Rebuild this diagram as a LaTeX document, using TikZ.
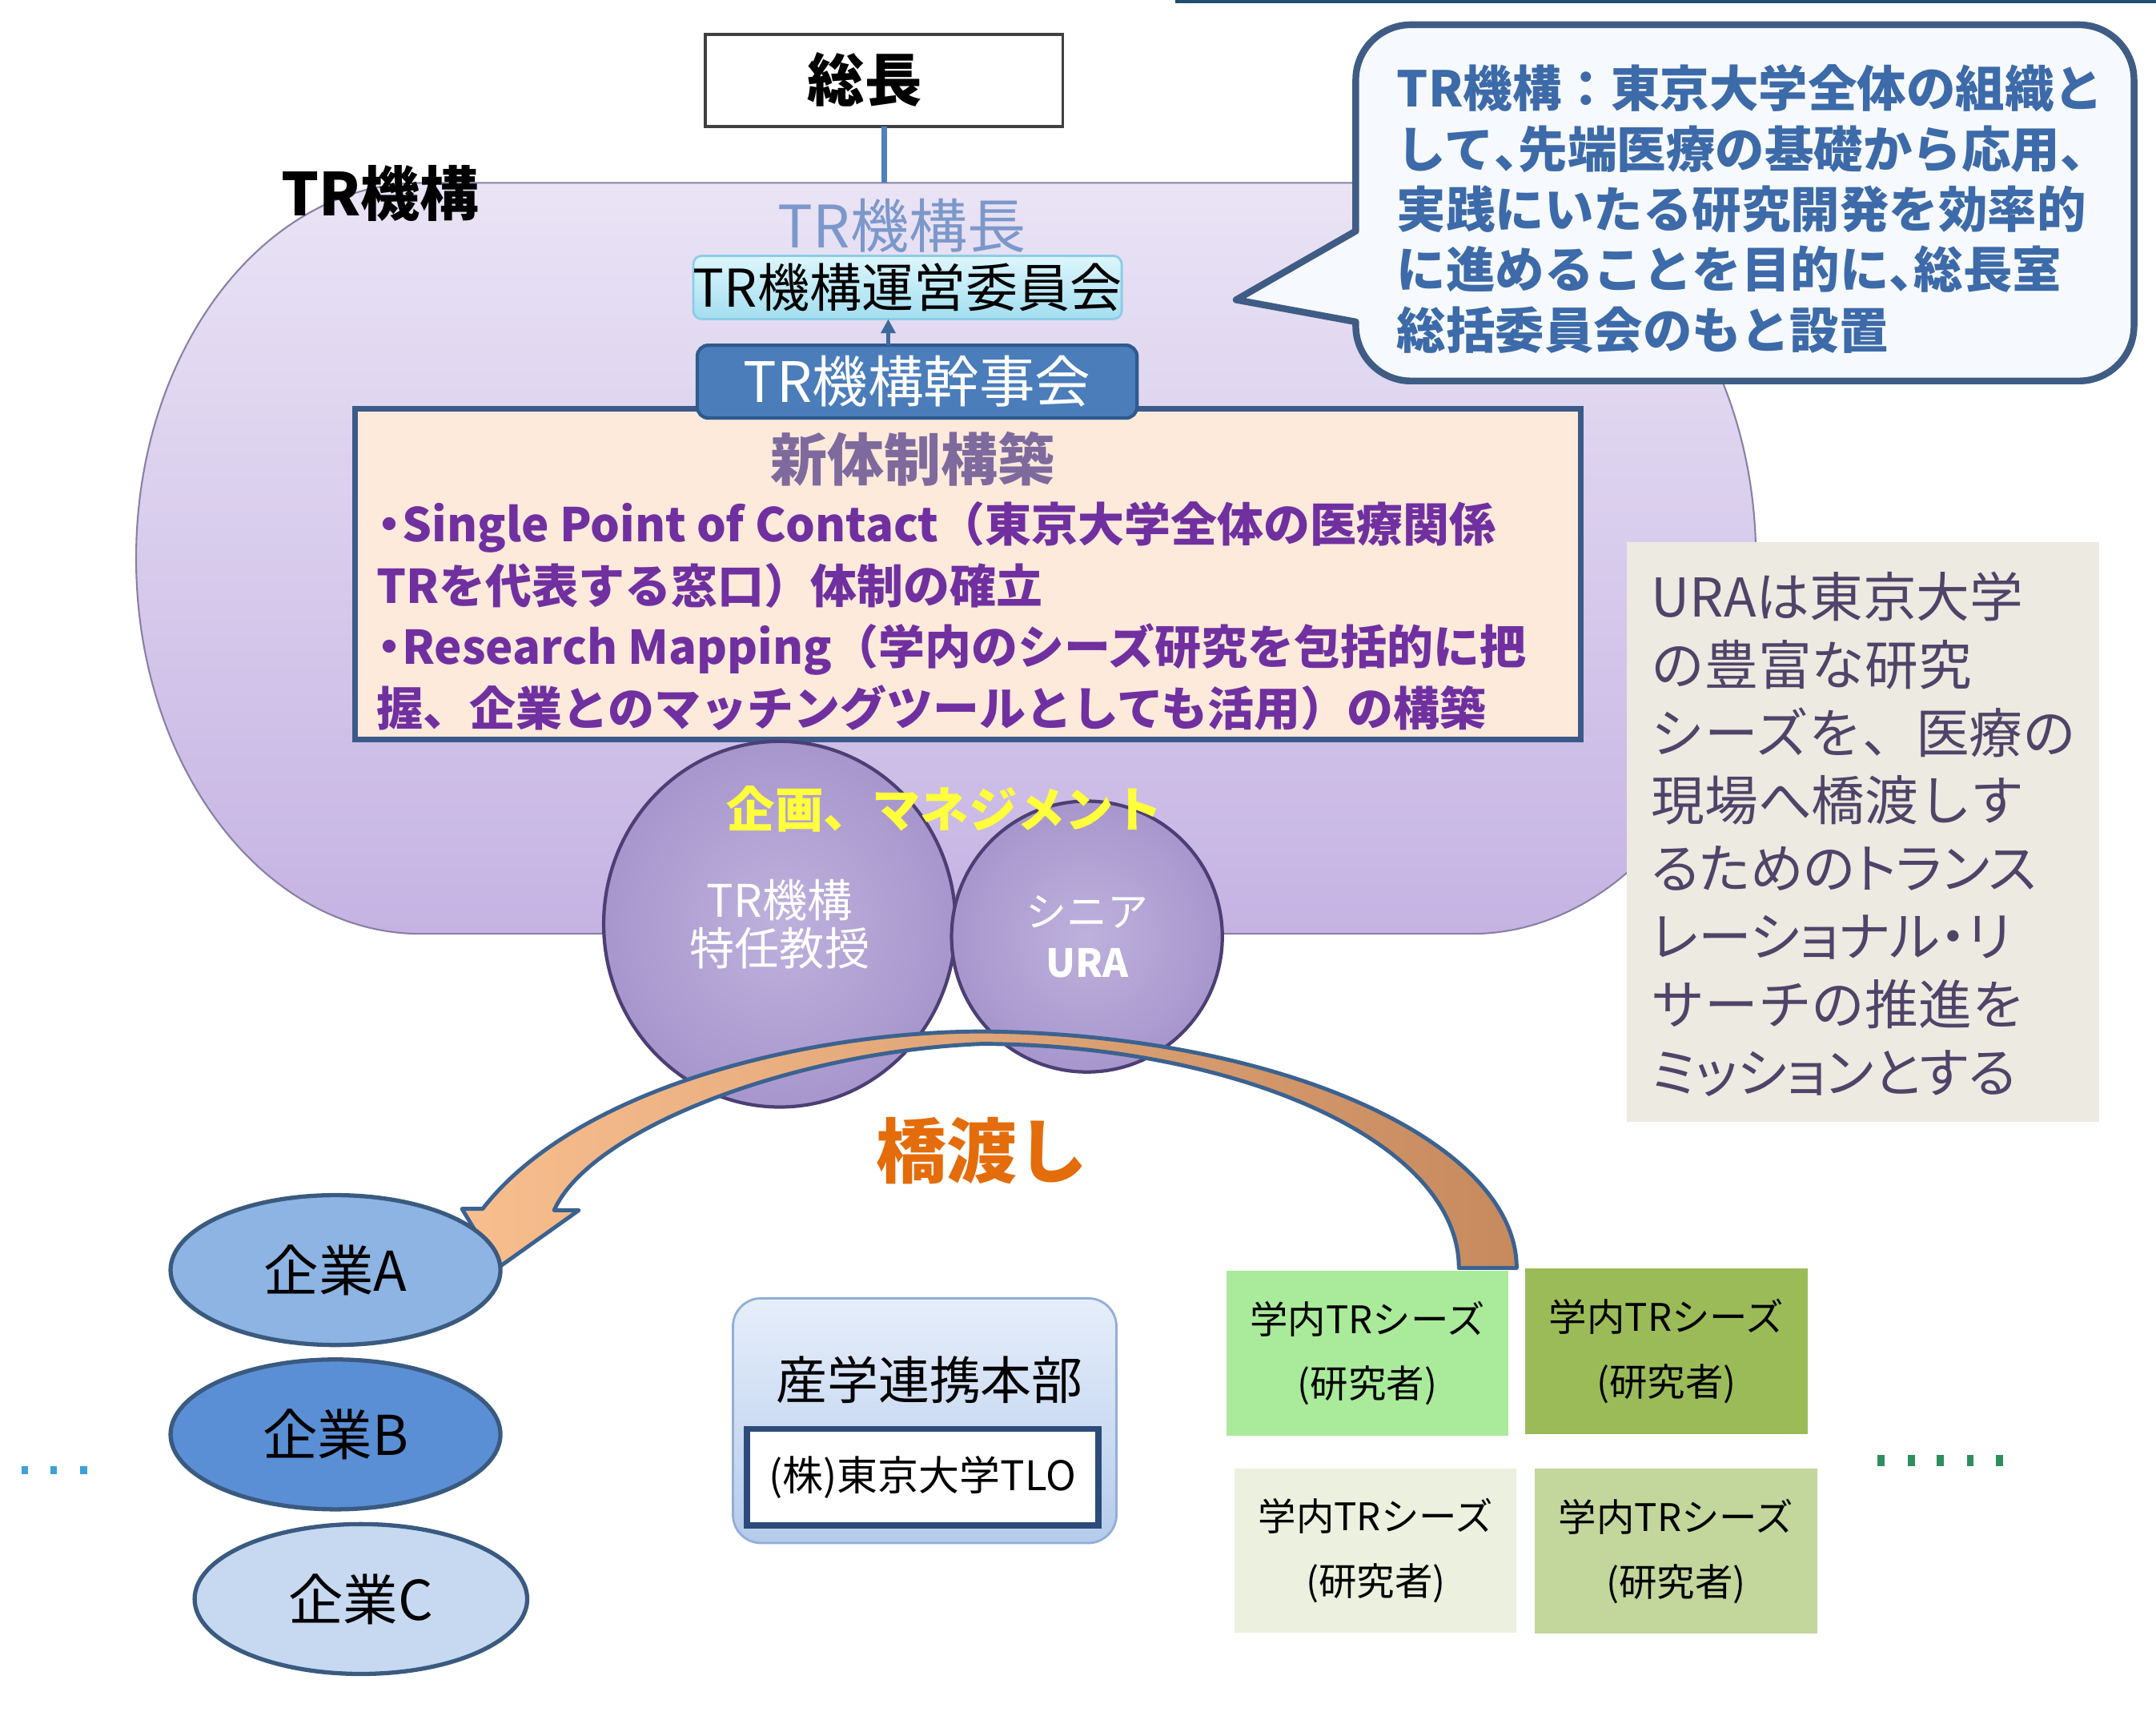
\documentclass[tikz,border=0pt]{standalone}
\usepackage{fontspec}
\setmainfont{Noto Sans CJK JP}
\usetikzlibrary{shapes.geometric,arrows.meta}
\newcommand\fsz[2]{\fontsize{#1}{#2}\selectfont}
\newcommand\hc{\makebox[0.5em][l]{、}}
\newcommand\hdot{\makebox[0.55em][c]{・}}
\newcommand\prop{\addfontfeatures{RawFeature=+palt}}
\definecolor{topline}{HTML}{1F4E6E}
\definecolor{purpleedge}{HTML}{8A80A6}
\definecolor{purpletop}{HTML}{EAE4F5}
\definecolor{purplebot}{HTML}{C5B3E3}
\definecolor{zouchoedge}{HTML}{404040}
\definecolor{linkblue}{HTML}{4F81BD}
\definecolor{calloutedge}{HTML}{3F5C85}
\definecolor{calloutfill}{HTML}{F6FAFE}
\definecolor{calloutblue}{HTML}{3D6AA8}
\definecolor{headblue}{HTML}{7C98CB}
\definecolor{uneiedge}{HTML}{8CCDE4}
\definecolor{uneitop}{HTML}{DDF6FD}
\definecolor{uneibot}{HTML}{A3DEF0}
\definecolor{shinedge}{HTML}{3B5A8A}
\definecolor{shinfill}{HTML}{FDEADB}
\definecolor{shintitle}{HTML}{7F6A9D}
\definecolor{bodypurple}{HTML}{7030A0}
\definecolor{kanjiedge}{HTML}{2E5A8C}
\definecolor{kanjifill}{HTML}{4A7DBA}
\definecolor{arrowblue}{HTML}{3E6A9C}
\definecolor{urafill}{HTML}{ECEAE1}
\definecolor{uratextc}{HTML}{4F4468}
\definecolor{circedge}{HTML}{4B3F74}
\definecolor{circin}{HTML}{BEB1DD}
\definecolor{circout}{HTML}{A796CC}
\definecolor{mgmtyellow}{HTML}{FFFF3B}
\definecolor{bandedge}{HTML}{3B6290}
\definecolor{bandleft}{HTML}{F9BE8E}
\definecolor{bandright}{HTML}{C68A5E}
\definecolor{bridgeorange}{HTML}{E46C0A}
\definecolor{compedge}{HTML}{3A5A80}
\definecolor{compAc}{HTML}{8DB4E2}
\definecolor{compBc}{HTML}{5A8FD5}
\definecolor{compCc}{HTML}{C6D9F1}
\definecolor{dotblue}{HTML}{3DA2D6}
\definecolor{dotgreen}{HTML}{2E8F5E}
\definecolor{sangakuedge}{HTML}{93AED6}
\definecolor{sangakutop}{HTML}{E6EEFA}
\definecolor{sangakubot}{HTML}{B5CBEC}
\definecolor{tloedge}{HTML}{2D4B7A}
\definecolor{seedAc}{HTML}{A9EB9A}
\definecolor{seedBc}{HTML}{9BBB59}
\definecolor{seedCc}{HTML}{EBF1DE}
\definecolor{seedDc}{HTML}{C3D69B}
\tikzset{
  every node/.style={inner sep=0pt, outer sep=0pt},
  wd/.style={minimum width=#1*0.48867pt},
  ht/.style={minimum height=#1*0.48867pt},
  sphere/.style={ellipse, draw=circedge, line width=1.2pt, inner color=circin, outer color=circout, text=white, align=center},
  company/.style={ellipse, draw=compedge, line width=1.5pt, font=\fsz{19.5pt}{22pt}},
  seedbox/.style={wd=205, ht=120, align=center, font=\fsz{13.5pt}{23pt}},
}
\begin{document}
\begin{tikzpicture}[x=0.017175cm, y=-0.017175cm]
\path[use as bounding box, fill=white] (0,0) rectangle (1568,1256);
\fill[topline] (855,0) rectangle (1568,2.5);

% TR organisation background shape
\path[draw=purpleedge, line width=0.6pt, top color=purpletop, bottom color=purplebot]
 (306,133) -- (1070,133) .. controls (1184.3,133) and (1277,255.2) .. (1277,406)
 .. controls (1277,556.8) and (1184.3,679) .. (1070,679) -- (306,679)
 .. controls (191.7,679) and (99,556.8) .. (99,406)
 .. controls (99,255.2) and (191.7,133) .. (306,133) -- cycle;
\node[font=\fsz{21pt}{24pt}\bfseries] (orglabel) at (276.5,140.5) {TR機構};

% president
\node[draw=zouchoedge, line width=1pt, fill=white, wd=260, ht=67] (zoucho) at (643,58.5) {};
\node[font=\fsz{20.3pt}{24pt}\bfseries] (zouchotext) at (629,58) {総長};
\coordinate (orgtop) at (643,133);
\draw[linkblue, line width=1.8pt] (zoucho.south) -- (orgtop);

% callout
\draw[calloutedge, line width=2.4pt, fill=calloutfill, line join=round]
 (986,168) -- (899,218) -- (986,234) -- (986,237)
 .. controls (986,259) and (1004,277) .. (1026,277) -- (1512,277)
 .. controls (1534,277) and (1552,259) .. (1552,237) -- (1552,58)
 .. controls (1552,36) and (1534,18) .. (1512,18) -- (1026,18)
 .. controls (1004,18) and (986,36) .. (986,58) -- cycle;
\node[anchor=west, align=left, text=calloutblue, font=\fsz{17.5pt}{21.45pt}\bfseries] (note) at (1016,152)
 {TR機構：東京大学全体の組織と\\して\hc 先端医療の基礎から応用\hc\\実践にいたる研究開発を効率的\\に進めることを目的に\hc 総長室\\総括委員会のもと設置};

% head and committees
\node[text=headblue, font=\fsz{20.8pt}{24pt}] (head) at (656,164) {TR機構長};
\node[draw=uneiedge, line width=0.8pt, rounded corners=3pt, top color=uneitop, bottom color=uneibot,
 wd=302, ht=46, font=\fsz{18.5pt}{22pt}] (unei) at (660,209) {TR機構運営委員会};

\node[draw=shinedge, line width=2pt, fill=shinfill, wd=892, ht=241] (shin) at (704,417.5) {};
\node[text=shintitle, font=\fsz{20.2pt}{24pt}\bfseries] (shintitle) at (663.5,334) {新体制構築};
\node[anchor=west, align=left, text=bodypurple, font=\fsz{16.5pt}{21.8pt}\bfseries] (shinbody) at (274,448)
 {\hdot Single Point of Contact（東京大学全体の医療関係\\TRを代表する窓口）体制の確立\\\hdot Research Mapping（学内のシーズ研究を包括的に把\\握、企業とのマッチングツールとしても活用）の構築};

\node[draw=kanjiedge, line width=1.2pt, fill=kanjifill, rounded corners=4pt, wd=320, ht=53,
 text=white, font=\fsz{19.8pt}{24pt}] (kanji) at (667,277.5) {TR機構幹事会};
\coordinate (ax) at (646,0);
\draw[arrowblue, line width=1.5pt, -{Triangle[length=5pt,width=5pt]}] (kanji.north -| ax) -- (unei.south -| ax);

% URA explanation
\node[fill=urafill, wd=344, ht=422] (urabox) at (1355,605) {};
\node[anchor=west, align=left, text=uratextc, font=\fsz{19pt}{24.15pt}] (uratext) at (1201,606.5)
 {URAは東京大学\\の豊富な研究\\シーズを、医療の\\現場へ橋渡しす\\{\prop るためのトランス}\\{\prop レーショナル・リ}\\サーチの推進を\\{\prop ミッションとする}};

% spheres
\node[sphere, wd=256, ht=266, font=\fsz{16pt}{17pt}] (prof) at (567,672) {TR機構\\特任教授};
\node[sphere, wd=197, ht=197, font=\fsz{14.5pt}{18pt}] (senior) at (790.5,681) {シニア\\{\fsz{13.8pt}{18pt}\bfseries URA}};
\node[text=mgmtyellow, font=\fsz{17.2pt}{20pt}\bfseries] (mgmt) at (687,588) {企画、マネジメント};

% bridging arrow
\path[draw=bandedge, line width=1.4pt, left color=bandleft, right color=bandright, line join=round]
 (1103,922) .. controls (1103,830) and (930,752) .. (715,750)
 .. controls (590,750) and (420,790) .. (351,879)
 -- (336,879) -- (362,922) -- (421,880) -- (403,880)
 .. controls (430,820) and (580,764) .. (715,759)
 .. controls (900,760) and (1061,830) .. (1061,922) -- cycle;
\node[text=bridgeorange, font=\fsz{25pt}{28pt}\bfseries] (bridge) at (714,837) {橋渡し};

% companies
\node[company, fill=compAc, wd=240, ht=109] (compA) at (244,923.5) {企業A};
\node[company, fill=compBc, wd=240, ht=109] (compB) at (244,1043) {企業B};
\node[company, fill=compCc, wd=242, ht=109] (compC) at (262.5,1162.7) {企業C};
\foreach \x in {18,39,61} \fill[dotblue] (\x-2.5,1066) rectangle (\x+2.5,1072);

% industry liaison
\node[draw=sangakuedge, line width=0.8pt, rounded corners=10pt, top color=sangakutop, bottom color=sangakubot,
 wd=279, ht=178] (sangaku) at (672.5,1033) {};
\node[font=\fsz{18.2pt}{22pt}] (sangakutext) at (676,1003) {産学連携本部};
\node[draw=tloedge, line width=2.2pt, fill=white, wd=256, ht=70, font=\fsz{14.5pt}{18pt}] (tlo) at (671,1074) {(株)東京大学TLO};

% seeds
\node[seedbox, fill=seedAc] (seedA) at (994.5,984) {学内TRシーズ\\(研究者)};
\node[seedbox, fill=seedBc, wd=206, ht=121] (seedB) at (1212,982.5) {学内TRシーズ\\(研究者)};
\node[seedbox, fill=seedCc, ht=119] (seedC) at (1000.5,1127.5) {学内TRシーズ\\(研究者)};
\node[seedbox, fill=seedDc, wd=206] (seedD) at (1219,1128) {学内TRシーズ\\(研究者)};
\foreach \x in {1368,1390,1411,1433,1454} \fill[dotgreen] (\x-2.5,1058) rectangle (\x+2.5,1066);
\end{tikzpicture}
\end{document}
